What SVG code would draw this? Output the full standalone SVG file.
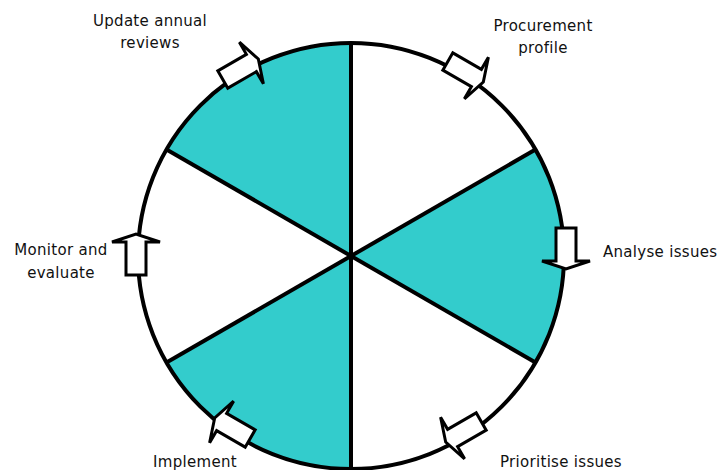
<svg xmlns="http://www.w3.org/2000/svg" width="719" height="470" viewBox="0 0 719 470">
  <style>
    .teal { fill: #33CCCC; stroke: none; }
    .rim { fill: none; stroke: #000; stroke-width: 4; }
    .spoke { stroke: #000; stroke-width: 4; stroke-linecap: butt; }
    .lbl { font-family: "DejaVu Sans", Verdana, sans-serif; font-size: 15px; letter-spacing: 0.3px; fill: #111; }
    .mid { text-anchor: middle; }
  </style>
  <defs>
    <polygon id="blockArrow" points="-10,-21 10,-21 10,12 24,12 0,20 -24,12 -10,12" fill="#fff" stroke="#000" stroke-width="3" stroke-linejoin="miter"/>
  </defs>
  <rect width="719" height="470" fill="#fff"/>
  <g id="wheel">
    <path class="teal" d="M351,256 L166.5,149.5 A213,213 0 0 1 351,43 Z"/>
    <path class="teal" d="M351,256 L535.5,149.5 A213,213 0 0 1 535.5,362.5 Z"/>
    <path class="teal" d="M351,256 L351,469 A213,213 0 0 1 166.5,362.5 Z"/>
    <circle class="rim" cx="351" cy="256" r="213"/>
  </g>
  <g id="connectors">
    <line class="spoke" x1="351" y1="43" x2="351" y2="469"/>
    <line class="spoke" x1="166.5" y1="149.5" x2="535.5" y2="362.5"/>
    <line class="spoke" x1="535.5" y1="149.5" x2="166.5" y2="362.5"/>
  </g>
  <g id="procurement-profile">
    <use href="#blockArrow" transform="translate(466,72) rotate(300)"/>
    <text class="lbl mid" x="543" y="31">Procurement</text>
    <text class="lbl mid" x="543" y="53">profile</text>
  </g>
  <g id="analyse-issues">
    <use href="#blockArrow" transform="translate(566,249) rotate(0)"/>
    <text class="lbl" x="603" y="257">Analyse issues</text>
  </g>
  <g id="prioritise-issues">
    <use href="#blockArrow" transform="translate(463,432) rotate(60)"/>
    <text class="lbl mid" x="561" y="467">Prioritise issues</text>
  </g>
  <g id="implement">
    <use href="#blockArrow" transform="translate(232,428) rotate(120)"/>
    <text class="lbl mid" x="195" y="467">Implement</text>
  </g>
  <g id="monitor-and-evaluate">
    <use href="#blockArrow" transform="translate(136,254) rotate(180)"/>
    <text class="lbl mid" x="61" y="255">Monitor and</text>
    <text class="lbl mid" x="61" y="278">evaluate</text>
  </g>
  <g id="update-annual-reviews">
    <use href="#blockArrow" transform="translate(241,69) rotate(240)"/>
    <text class="lbl mid" x="150" y="26">Update annual</text>
    <text class="lbl mid" x="150" y="48">reviews</text>
  </g>
</svg>
